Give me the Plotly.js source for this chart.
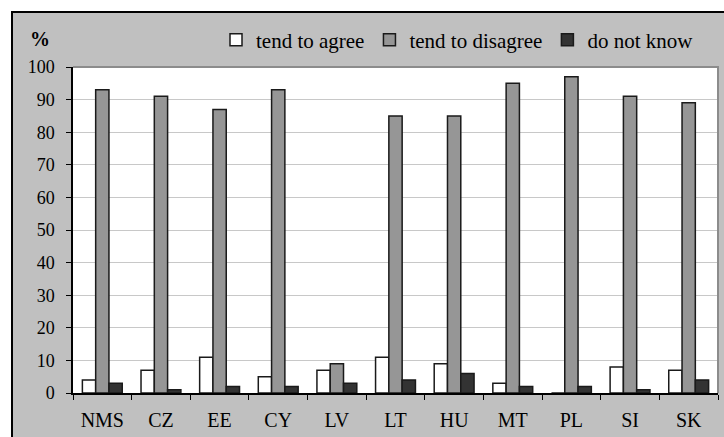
<!DOCTYPE html>
<html>
<head>
<meta charset="utf-8">
<script src="https://cdn.plot.ly/plotly-3.0.1.min.js"></script>
<style>
html,body{margin:0;padding:0;background:#fff;}
#wrap{position:relative;width:724px;height:437px;overflow:hidden;}
#chart{position:absolute;left:0;top:0;width:724px;height:437px;background:#c0c0c0;}
.ov{position:absolute;pointer-events:none;}
</style>
</head>
<body>
<div id="wrap">
  <div id="chart"></div>
  <div class="ov" style="left:0;top:0;width:11px;height:437px;background:#fff;"></div>
  <div class="ov" style="left:0;top:0;width:724px;height:11px;background:#fff;"></div>
  <div class="ov" style="left:11px;top:11px;width:2px;height:426px;background:#000;"></div>
  <div class="ov" style="left:11px;top:11px;width:713px;height:2px;background:#000;"></div>
  <div class="ov" style="left:73px;top:66px;width:646px;height:2px;background:#8c8c8c;"></div>
  <div class="ov" style="left:717px;top:66px;width:2px;height:327px;background:#8c8c8c;"></div>
</div>
<script>
const categories = ["NMS", "CZ", "EE", "CY", "LV", "LT", "HU", "MT", "PL", "SI", "SK"];
const tendToAgree = [4, 7, 11, 5, 7, 11, 9, 3, 0, 8, 7];
const tendToDisagree = [93, 91, 87, 93, 9, 85, 85, 95, 97, 91, 89];
const doNotKnow = [3, 1, 2, 2, 3, 4, 6, 2, 2, 1, 4];
const yTicks = [0, 10, 20, 30, 40, 50, 60, 70, 80, 90, 100];

const FONT = "Liberation Serif";
const W = 724, H = 437;
const L = 73, R = 718, T = 67, B = 393;
const px = x => (x - L) / (R - L);
const py = y => (B - y) / (B - T);

const lineStyle = {color: "#1a1a1a", width: 1.5};
const traces = [
  {type: "bar", name: "tend to agree", x: categories, y: tendToAgree,
   marker: {color: "#ffffff", line: lineStyle}},
  {type: "bar", name: "tend to disagree", x: categories, y: tendToDisagree,
   marker: {color: "#969696", line: lineStyle}},
  {type: "bar", name: "do not know", x: categories, y: doNotKnow,
   marker: {color: "#333333", line: lineStyle}}
];

const layout = {
  width: W, height: H,
  margin: {l: L, r: W - R, t: T, b: H - B, pad: 0},
  paper_bgcolor: "#c0c0c0",
  plot_bgcolor: "#ffffff",
  font: {family: FONT, color: "#000000", size: 18},
  barmode: "group",
  bargap: 0.32,
  bargroupgap: 0,
  showlegend: true,
  legend: {
    orientation: "h", x: px(216), xanchor: "left", y: py(40), yanchor: "middle",
    bgcolor: "rgba(0,0,0,0)", borderwidth: 0,
    font: {family: FONT, size: 21, color: "#000"},
    traceorder: "normal"
  },
  xaxis: {
    type: "category", tickvals: categories, ticktext: categories,
    tickson: "boundaries", ticks: "outside", ticklen: 5, tickwidth: 1.2, tickcolor: "#000",
    showline: true, linecolor: "#000", linewidth: 1.5,
    showgrid: false, zeroline: false, fixedrange: true,
    tickfont: {family: FONT, size: 20, color: "#000"},
    ticklabelstandoff: 8
  },
  yaxis: {
    range: [0, 100], tickvals: yTicks, ticktext: yTicks.map(String),
    ticks: "outside", ticklen: 5, tickwidth: 1.2, tickcolor: "#000",
    showline: true, linecolor: "#000", linewidth: 1.5,
    showgrid: true, gridcolor: "#c8c8c8", gridwidth: 1,
    zeroline: false, fixedrange: true,
    tickfont: {family: FONT, size: 18, color: "#000"},
    ticklabelstandoff: 8
  },
  annotations: [
    {text: "<b>%</b>", xref: "paper", yref: "paper", x: px(40), y: py(39),
     xanchor: "center", yanchor: "middle", showarrow: false,
     font: {family: FONT, size: 20, color: "#000"}}
  ]
};

function draw() {
  Plotly.newPlot("chart", traces, layout, {displayModeBar: false});
}
if (document.fonts && document.fonts.load) {
  Promise.all([
    document.fonts.load('20px "Liberation Serif"'),
    document.fonts.load('bold 20px "Liberation Serif"')
  ]).then(draw, draw);
} else {
  draw();
}
</script>
</body>
</html>
